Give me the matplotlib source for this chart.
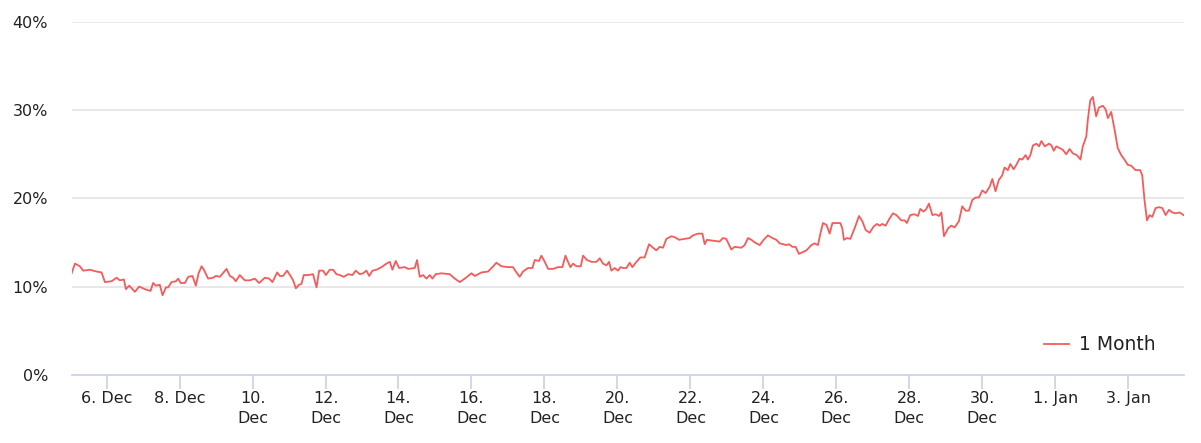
import matplotlib
matplotlib.use("Agg")
import matplotlib.pyplot as plt
import matplotlib.dates as mdates
import numpy as np
import pandas as pd

# Hours since 2023-12-05 00:00 and implied volatility (%) for "1 Month"
hours = [
    1.0, 3.2, 6.4, 8.6, 13.0, 17.4, 20.7, 22.9, 27.3, 30.6, 32.7, 35.4, 36.7, 38.9, 42.6, 45.4,
    49.2, 52.9, 54.6, 56.4, 59.0, 60.8, 63.0, 64.5, 66.7, 69.6, 71.1, 72.7, 75.5, 77.7, 80.5,
    82.7, 84.5, 86.5, 88.0, 90.8, 94.1, 95.9, 98.5, 102.9, 105.1, 107.2, 109.0, 111.6, 114.9,
    118.2, 121.5, 124.3, 128.1, 130.9, 133.1, 136.2, 137.9, 140.1, 142.7, 145.0, 146.7, 148.5,
    150.6, 152.2, 153.7, 156.6, 159.8, 162.1, 163.8, 166.4, 168.2, 170.8, 173.0, 175.2, 177.4,
    180.0, 182.9, 185.7, 187.9, 190.5, 192.7, 194.9, 196.7, 198.9, 201.5, 204.8, 208.1, 210.3,
    212.0, 214.2, 216.4, 220.1, 222.3, 226.7, 228.2, 230.0, 232.2, 234.4, 236.6, 238.3, 240.5,
    244.3, 249.7, 253.0, 256.3, 259.6, 264.0, 266.2, 270.6, 274.9, 277.8, 280.4, 283.7, 288.1,
    291.3, 293.6, 295.7, 297.9, 301.2, 304.1, 305.6, 308.4, 310.0, 312.2, 314.4, 317.6, 320.9,
    323.8, 325.8, 327.5, 329.1, 330.8, 333.0, 335.9, 337.4, 340.0, 342.9, 346.2, 348.4, 350.5,
    352.8, 354.5, 356.0, 358.2, 360.4, 362.0, 363.7, 365.9, 368.1, 369.8, 372.5, 375.1, 377.9,
    380.8, 383.4, 385.6, 387.8, 390.0, 392.2, 395.5, 397.7, 400.5, 404.2, 407.5, 409.7, 413.0,
    415.9, 417.4, 418.9, 422.8, 427.2, 429.4, 431.6, 434.9, 437.1, 441.5, 443.7, 445.9, 448.1,
    450.3, 453.6, 456.2, 459.0, 461.9, 464.5, 466.7, 468.9, 471.1, 472.8, 475.1, 477.2, 479.4,
    484.3, 487.6, 489.7, 491.9, 493.5, 495.2, 497.5, 499.6, 501.4, 504.0, 506.6, 507.9, 509.0,
    511.0, 513.2, 516.0, 518.9, 521.1, 523.3, 525.9, 528.5, 530.7, 532.5, 534.2, 536.4, 538.6,
    541.2, 543.5, 546.7, 548.9, 550.4, 552.6, 555.5, 557.7, 559.2, 561.4, 563.2, 564.9, 567.2,
    569.3, 571.5, 573.1, 574.8, 577.5, 579.6, 581.8, 584.6, 586.8, 589.0, 591.2, 593.4, 595.6,
    597.8, 600.0, 602.2, 604.8, 606.6, 608.7, 610.9, 613.1, 614.6, 616.8, 618.4, 620.6, 622.4,
    624.5, 626.3, 628.5, 630.0, 631.6, 633.3, 635.6, 637.3, 638.9, 641.1, 643.9, 645.5, 647.0,
    648.7, 650.8, 653.0, 655.2, 657.4, 659.6, 662.2, 664.6, 666.1, 668.4, 669.4, 671.0, 672.7,
    674.9, 676.7, 679.3, 681.1, 682.6, 684.8, 687.0, 689.1, 691.4, 693.5, 695.7, 697.9, 700.8,
    703.9, 705.2, 706.7, 708.3, 710.0, 711.8, 714.0, 716.2, 718.4, 720.6, 722.8, 725.0, 727.1,
    729.8, 732.4,
]
vol_1m = [
    11.5, 12.6, 12.3, 11.8, 11.9, 11.7, 11.6, 10.5, 10.6, 11.0, 10.7, 10.8, 9.7, 10.1, 9.4, 10.0,
    9.7, 9.5, 10.4, 10.1, 10.2, 9.0, 9.9, 9.9, 10.5, 10.6, 10.9, 10.4, 10.4, 11.1, 11.2,
    10.1, 11.5, 12.3, 11.9, 10.9, 11.0, 11.2, 11.1, 12.0, 11.2, 11.0, 10.6, 11.3, 10.7,
    10.7, 10.9, 10.4, 11.0, 10.9, 10.5, 11.6, 11.2, 11.2, 11.8, 11.2, 10.7, 9.8,
    10.2, 10.3, 11.3, 11.3, 11.4, 9.9, 11.8, 11.8, 11.3, 11.9, 11.9, 11.4, 11.3,
    11.1, 11.4, 11.3, 11.8, 11.4, 11.5, 11.8, 11.2, 11.8, 11.9, 12.2, 12.6, 12.8,
    11.9, 12.9, 12.1, 12.2, 12.0, 12.1, 13.0, 11.1, 11.3, 10.9, 11.3, 10.9, 11.4,
    11.5, 11.4, 10.9, 10.5, 10.9, 11.5, 11.2, 11.6, 11.7, 12.2, 12.7, 12.3, 12.2,
    12.2, 11.6, 11.1, 11.7, 12.1, 12.1, 13.0, 12.9, 13.5, 12.8, 12.0, 12.0, 12.2,
    12.2, 13.5, 12.8, 12.2, 12.6, 12.3, 12.3, 13.5, 13.0, 12.8, 12.8, 13.2, 12.6,
    12.4, 12.8, 11.8, 12.1, 11.8, 12.2, 12.1, 12.1, 12.7, 12.2, 12.8, 13.3, 13.3,
    14.8, 14.4, 14.1, 14.5, 14.4, 15.4, 15.7, 15.6, 15.3, 15.4, 15.5, 15.8, 16.0,
    16.0, 14.8, 15.3, 15.2, 15.1, 15.5, 15.4, 14.2, 14.5, 14.4, 14.7, 15.5, 15.3,
    15.0, 14.7, 15.3, 15.8, 15.5, 15.3, 14.9, 14.8, 14.7, 14.8, 14.5, 14.5, 13.7,
    14.1, 14.7, 14.9, 14.7, 16.0, 17.2, 17.0, 16.0, 17.2, 17.2, 17.2, 16.6, 15.3,
    15.5, 15.4, 16.6, 18.0, 17.4, 16.4, 16.1, 16.8, 17.1, 16.9, 17.1, 16.9, 17.6,
    18.3, 18.1, 17.5, 17.5, 17.2, 18.1, 18.2, 18.0, 18.8, 18.5, 18.8, 19.4, 18.1,
    18.2, 18.0, 18.4, 15.7, 16.6, 16.9, 16.7, 17.4, 19.1, 18.6, 18.6, 19.8, 20.1,
    20.1, 20.9, 20.6, 21.3, 22.2, 20.8, 22.1, 22.6, 23.5, 23.2, 23.9, 23.3, 23.8,
    24.5, 24.4, 24.9, 24.4, 24.9, 26.0, 26.2, 25.9, 26.5, 25.9, 26.2, 26.0, 25.4,
    25.9, 25.7, 25.5, 25.0, 25.6, 25.1, 24.9, 24.4, 25.9, 27.0, 28.9, 31.1, 31.5,
    29.3, 30.3, 30.5, 30.1, 29.1, 29.8, 27.8, 25.7, 24.9, 24.4, 23.8, 23.7, 23.2,
    23.2, 22.6, 19.8, 17.5, 18.1, 17.9, 18.9, 19.0, 18.9, 18.1, 18.7, 18.4, 18.3,
    18.4, 18.1,
]
start_time = "2023-12-05 00:00"
range_start = "2023-12-05 00:55"
range_end = "2024-01-04 12:40"
y_ticks = [0, 10, 20, 30, 40]
tick_days = pd.date_range("2023-12-06", "2024-01-03", freq="2D")
series_name = "1 Month"

times = pd.Timestamp(start_time) + pd.to_timedelta(hours, unit="h")

fig = plt.figure(figsize=(12.01, 4.43), dpi=100)
ax = fig.add_axes([71.5 / 1201, (443 - 374.7) / 443, (1184 - 71.5) / 1201, (374.7 - 22) / 443])

line_color = "#f45b5b"
ax.plot(times, vol_1m, color=line_color, lw=1.3, label=series_name, solid_joinstyle="round")

ax.set_ylim(0, 40)
ax.set_xlim(pd.Timestamp(range_start), pd.Timestamp(range_end))
ax.set_yticks(y_ticks)
ax.set_yticklabels([f"{v}%" for v in y_ticks])
ax.grid(axis="y", color="#e6e6e6", lw=1.3)
ax.set_axisbelow(True)

for s in ["top", "right", "left"]:
    ax.spines[s].set_visible(False)
ax.spines["bottom"].set_color("#ccd6eb")
ax.spines["bottom"].set_linewidth(1.3)

def fmt(d):
    d = pd.Timestamp(d)
    if d.month == 1 or d.day < 10:
        return f"{d.day}. {d.strftime('%b')}"
    return f"{d.day}.\n{d.strftime('%b')}"

ax.set_xticks(tick_days)
ax.set_xticklabels([fmt(d) for d in tick_days], va="top", ha="center", linespacing=1.35)
ax.tick_params(axis="x", length=10, width=1.3, color="#ccd6eb", labelsize=11.5,
               labelcolor="#222222", pad=2)
ax.tick_params(axis="y", length=0, labelsize=11.5, labelcolor="#222222", pad=17)

leg = fig.legend(loc="center right", bbox_to_anchor=(1156 / 1201, 1 - 345 / 443),
                 frameon=False, fontsize=13.5, handlelength=1.35, handletextpad=0.55,
                 borderpad=0, borderaxespad=0)
for t in leg.get_texts():
    t.set_color("#222222")

fig.savefig("out.png", dpi=100)
